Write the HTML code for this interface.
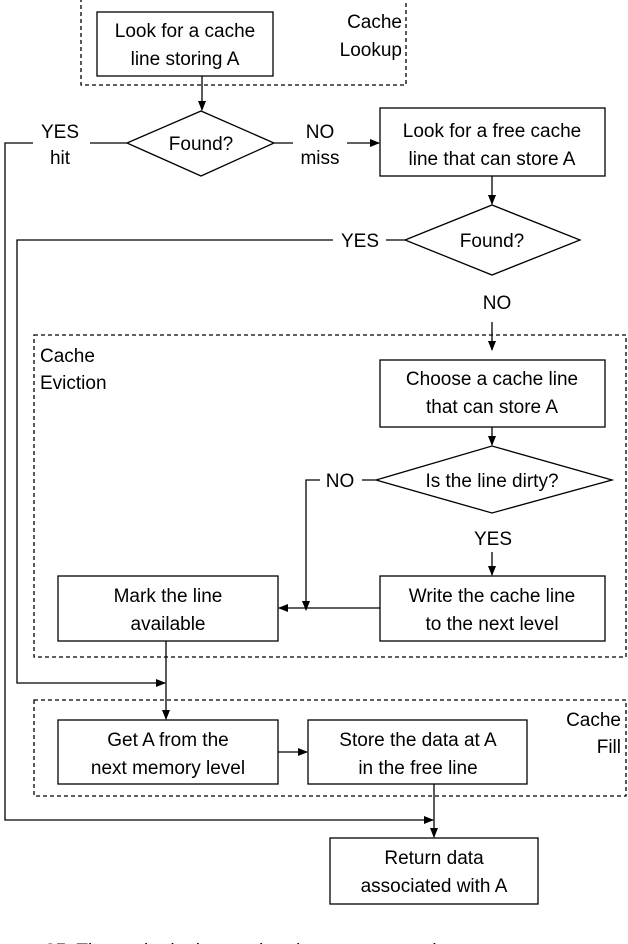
<!DOCTYPE html>
<html><head><meta charset="utf-8"><style>
html,body{margin:0;padding:0;background:#fff;overflow:hidden}
svg{display:block}
text{font-family:"Liberation Sans",Arial,sans-serif;font-size:19px;fill:#000}
</style></head><body>
<svg width="628" height="944" viewBox="0 0 628 944" xmlns="http://www.w3.org/2000/svg">
<defs><marker id="a" markerWidth="10" markerHeight="10" refX="9" refY="5" orient="auto" markerUnits="userSpaceOnUse"><path d="M0,1 L10,5 L0,9 z" fill="#000"/></marker></defs>
<g fill="none" stroke="#000" stroke-width="1.3">
<rect x="81" y="-1" width="325" height="86" stroke-dasharray="4,3"/>
<rect x="34" y="335" width="592" height="322" stroke-dasharray="4,3"/>
<rect x="34" y="700" width="592" height="96" stroke-dasharray="4,3"/>
<rect x="97" y="12" width="176" height="64"/>
<rect x="380" y="108" width="225" height="68"/>
<rect x="380" y="360" width="225" height="67"/>
<rect x="380" y="576" width="225" height="65"/>
<rect x="58" y="576" width="220" height="65"/>
<rect x="58" y="720" width="220" height="64"/>
<rect x="308" y="720" width="219" height="64"/>
<rect x="330" y="838" width="208" height="66"/>
<path d="M127,143 L201,111 L274,143 L201,176 Z"/>
<path d="M405,240 L492,205 L580,240 L492,275 Z"/>
<path d="M376,480 L492,446 L612,480 L492,513 Z"/>
<path d="M202,76 V110" marker-end="url(#a)"/>
<path d="M127,143 H90 M33,143 H5 V820 H433" marker-end="url(#a)"/>
<path d="M274,143 H293 M347,143 H379" marker-end="url(#a)"/>
<path d="M492,176 V204" marker-end="url(#a)"/>
<path d="M405,240 H386 M333,240 H17 V683 H165" marker-end="url(#a)"/>
<path d="M492,322 V350" marker-end="url(#a)"/>
<path d="M492,427 V445" marker-end="url(#a)"/>
<path d="M376,480 H362 M320,480 H306 V610" marker-end="url(#a)"/>
<path d="M492,552 V575" marker-end="url(#a)"/>
<path d="M380,608 H279" marker-end="url(#a)"/>
<path d="M166,641 V719" marker-end="url(#a)"/>
<path d="M278,752 H307" marker-end="url(#a)"/>
<path d="M434,784 V837" marker-end="url(#a)"/>
</g>
<g text-anchor="middle">
<text x="185" y="37">Look for a cache</text><text x="185" y="65">line storing A</text>
<text x="201" y="150">Found?</text>
<text x="60" y="138">YES</text><text x="60" y="164">hit</text>
<text x="320" y="138">NO</text><text x="320" y="164">miss</text>
<text x="492" y="137">Look for a free cache</text><text x="492" y="165">line that can store A</text>
<text x="492" y="247">Found?</text>
<text x="360" y="247">YES</text>
<text x="497" y="309">NO</text>
<text x="492" y="385">Choose a cache line</text><text x="492" y="413">that can store A</text>
<text x="492" y="487">Is the line dirty?</text>
<text x="340" y="487">NO</text>
<text x="493" y="545">YES</text>
<text x="492" y="602">Write the cache line</text><text x="492" y="630">to the next level</text>
<text x="168" y="602">Mark the line</text><text x="168" y="630">available</text>
<text x="168" y="746">Get A from the</text><text x="168" y="774">next memory level</text>
<text x="418" y="746">Store the data at A</text><text x="418" y="774">in the free line</text>
<text x="434" y="864">Return data</text><text x="434" y="892">associated with A</text>
</g>
<g text-anchor="end">
<text x="402" y="28">Cache</text><text x="402" y="56">Lookup</text>
<text x="621" y="726">Cache</text><text x="621" y="753">Fill</text>
</g>
<text x="40" y="362">Cache</text><text x="40" y="389">Eviction</text>
<text x="45" y="957" font-size="22"><tspan font-weight="bold">25.</tspan> The cache lookup and replacement procedure</text>
</svg>
</body></html>
